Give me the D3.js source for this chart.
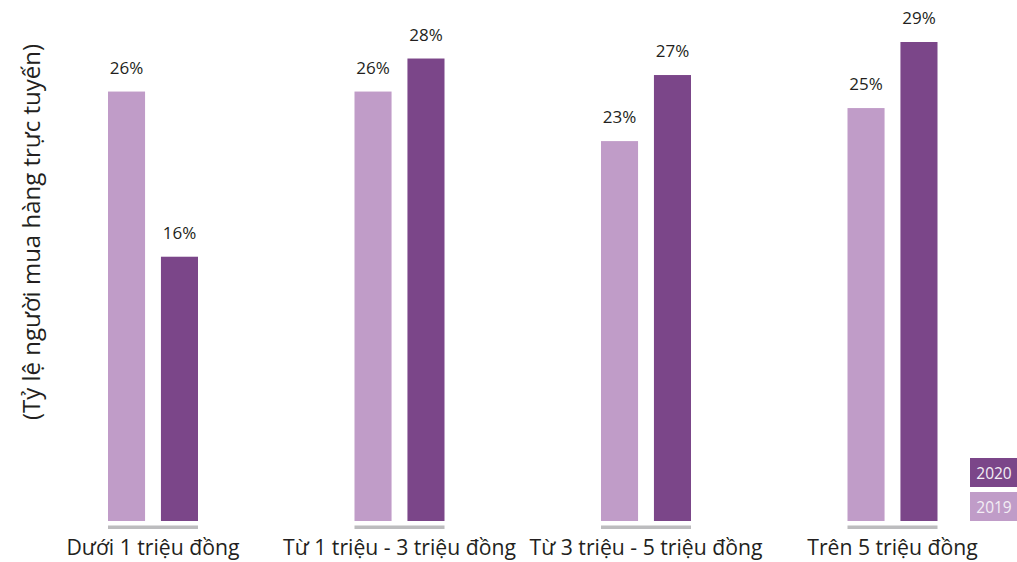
<!DOCTYPE html>
<html><head><meta charset="utf-8">
<script src="https://cdn.jsdelivr.net/npm/d3@7/dist/d3.min.js"></script>
<style>body{margin:0;background:#fff}svg{display:block}</style>
</head><body>
<svg id="c" width="1017" height="562"></svg>
<script>
const categories = ["Dưới 1 triệu đồng","Từ 1 triệu - 3 triệu đồng","Từ 3 triệu - 5 triệu đồng","Trên 5 triệu đồng"];
const series = ["2019","2020"];
const values2019 = [26,26,23,25];
const values2020 = [16,28,27,29];
const yTitle = "(Tỷ lệ người mua hàng trực tuyến)";
const colors = {"2019":"#c09cc8","2020":"#7b4689"};

const svg = d3.select("#c");
const font = "'Open Sans', 'Noto Sans', sans-serif";
const x0 = d3.scaleBand().domain(categories).range([29, 1015]).paddingInner(0).paddingOuter(0);
const x1 = d3.scaleBand().domain(series).range([79, 169]).paddingInner(0.3);
const y = d3.scaleLinear().domain([0, 29]).range([521, 42]);

const data = categories.map((c,i)=>({c, v:{"2019":values2019[i],"2020":values2020[i]}}));

const g = svg.selectAll("g.grp").data(data).join("g").attr("class","grp")
  .attr("transform", d=>`translate(${x0(d.c)},0)`);

g.selectAll("rect.bar").data(d=>series.map(s=>({s,v:d.v[s]}))).join("rect").attr("class","bar")
  .attr("x", d=>x1(d.s)).attr("width", x1.bandwidth())
  .attr("y", d=>y(d.v)).attr("height", d=>y(0)-y(d.v))
  .attr("fill", d=>colors[d.s]);

g.selectAll("text.val").data(d=>series.map(s=>({s,v:d.v[s]}))).join("text").attr("class","val")
  .attr("x", d=>x1(d.s)+x1.bandwidth()/2).attr("y", d=>y(d.v)-18)
  .attr("text-anchor","middle").attr("font-family",font).attr("font-size",17)
  .attr("fill","#231f20").text(d=>d.v+"%");

g.append("rect").attr("x", x1("2019")).attr("y", 525.5)
  .attr("width", x1("2020")+x1.bandwidth()-x1("2019")).attr("height", 3.5).attr("fill","#bcbcbe");

g.append("text").attr("x", (x1("2019")+x1("2020")+x1.bandwidth())/2).attr("y", 555)
  .attr("text-anchor","middle").attr("font-family",font).attr("font-size",21.2)
  .attr("fill","#231f20").text(d=>d.c);

svg.append("text").attr("transform","translate(40,232) rotate(-90)")
  .attr("text-anchor","middle").attr("font-family",font).attr("font-size",24)
  .attr("fill","#231f20").text(yTitle);

const leg = svg.selectAll("g.leg").data(["2020","2019"]).join("g").attr("class","leg")
  .attr("transform",(d,i)=>`translate(970,${458+i*34})`);
leg.append("rect").attr("width",47).attr("height",29).attr("fill",d=>colors[d]);
leg.append("text").attr("x",24).attr("y",21).attr("text-anchor","middle")
  .attr("font-family",font).attr("font-size",15.5).attr("fill","#f3eef5").text(d=>d);
</script>
</body></html>
